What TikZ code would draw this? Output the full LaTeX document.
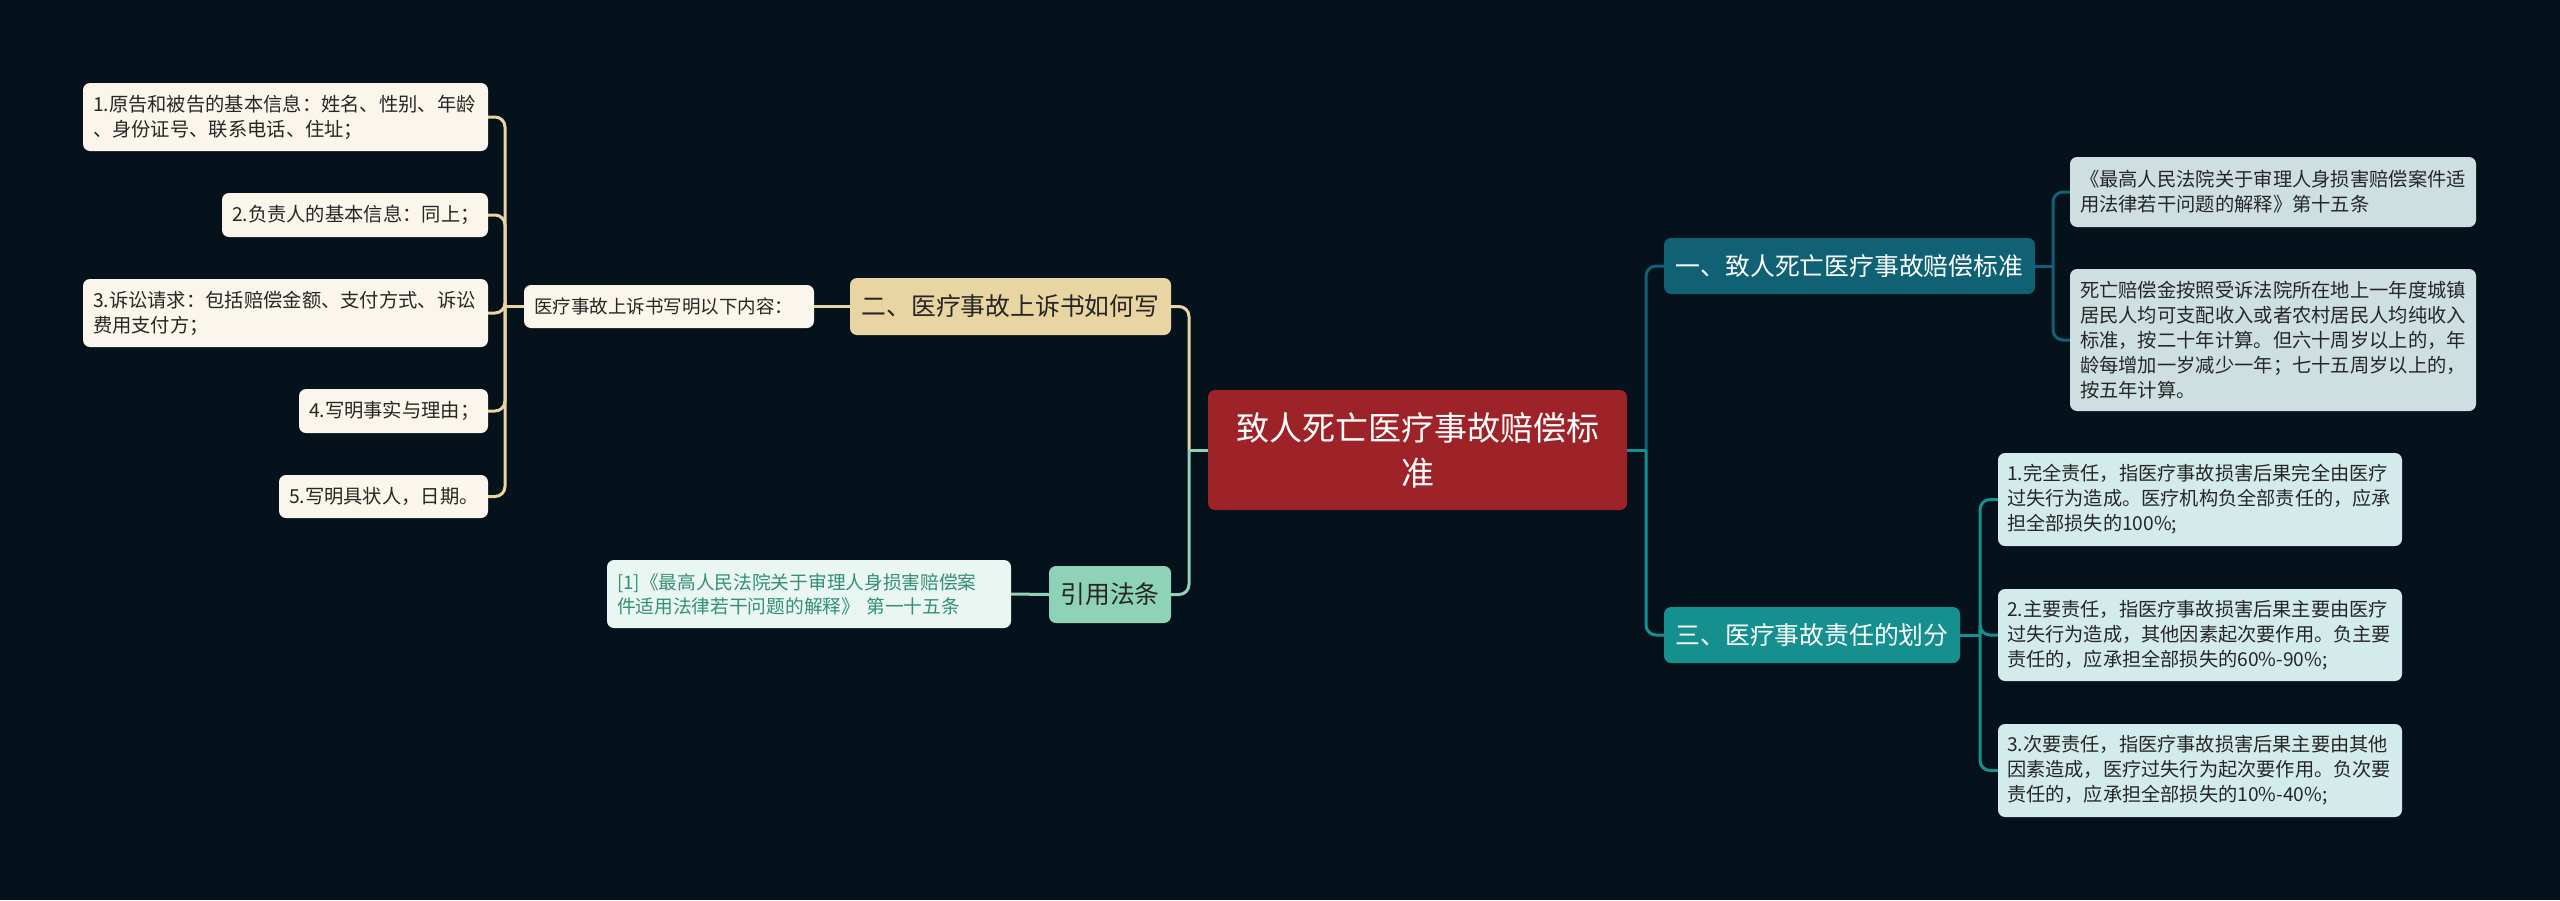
\documentclass[tikz,border=0pt]{standalone}
\usepackage{fontspec}
\setmainfont{Noto Sans CJK SC}
\definecolor{bgc}{HTML}{05121B}
\definecolor{centralc}{HTML}{9E2328}
\definecolor{wheat}{HTML}{E8D5A2}
\definecolor{cream}{HTML}{FBF6EB}
\definecolor{mint}{HTML}{8ED2B8}
\definecolor{mintlight}{HTML}{E9F6F1}
\definecolor{mintText}{HTML}{35906F}
\definecolor{dteal}{HTML}{0F6173}
\definecolor{teal2}{HTML}{16908F}
\definecolor{bluegray}{HTML}{CEDFE2}
\definecolor{cyanlight}{HTML}{D4EBEC}
\definecolor{txtdark}{HTML}{262626}
\tikzset{
  base/.style={rounded corners=7pt, inner ysep=0pt, align=left, anchor=center},
  leafL/.style={base, fill=cream, text=txtdark, font=\fontsize{19.3}{25}\selectfont, inner xsep=10pt},
  leafA/.style={base, fill=bluegray, text=txtdark, font=\fontsize{19.3}{25}\selectfont, inner xsep=10pt},
  leafC/.style={base, fill=cyanlight, text=txtdark, font=\fontsize{19.2}{25}\selectfont, inner xsep=9pt},
  citebox/.style={base, fill=mintlight, text=mintText, font=\fontsize{18.7}{24}\selectfont, inner xsep=10pt},
  mainbr/.style={base, align=center, font=\fontsize{24.8}{30}\selectfont, inner xsep=4pt},
  centralbox/.style={base, align=center, fill=centralc, text=white, font=\fontsize{33}{45}\selectfont, inner xsep=10pt},
  conn/.style={line width=3pt},
  rc/.style={rounded corners=10pt},
  lcream/.style={conn, draw=wheat},
  lmint/.style={conn, draw=mint},
  ldteal/.style={conn, draw=dteal},
  lteal/.style={conn, draw=teal2}
}
\begin{document}
\begin{tikzpicture}[x=1pt,y=-1pt]
\useasboundingbox (0,0) rectangle (2560,900);
\fill[bgc] (0,0) rectangle (2560,900);

% central
\node[centralbox, minimum width=419pt, minimum height=120pt, text width=399pt] (c) at (1417.5,450) {致人死亡医疗事故赔偿标\\准};

% left branch: 二
\node[mainbr, fill=wheat, text=txtdark, minimum width=321pt, minimum height=57pt] (n2) at (1010.5,306.5) {二、医疗事故上诉书如何写};
\node[base, fill=cream, text=txtdark, font=\fontsize{18.5}{24}\selectfont, inner xsep=10pt, minimum width=290pt, minimum height=43pt, text width=270pt] (q) at (669,306.5) {医疗事故上诉书写明以下内容：};

\node[leafL, minimum width=405pt, minimum height=68pt, text width=385pt] (l1) at (285.5,117) {1.原告和被告的基本信息：姓名、性别、年龄\\、身份证号、联系电话、住址；};
\node[leafL, minimum width=266pt, minimum height=44pt, text width=246pt] (l2) at (355,215) {2.负责人的基本信息：同上；};
\node[leafL, minimum width=405pt, minimum height=68pt, text width=385pt] (l3) at (285.5,313) {3.诉讼请求：包括赔偿金额、支付方式、诉讼\\费用支付方；};
\node[leafL, minimum width=189pt, minimum height=44pt, text width=169pt] (l4) at (393.5,411) {4.写明事实与理由；};
\node[leafL, minimum width=209pt, minimum height=43pt, text width=189pt] (l5) at (383.5,496.5) {5.写明具状人，日期。};

% left branch: 引用法条
\node[mainbr, fill=mint, text=txtdark, minimum width=122pt, minimum height=57pt] (n4) at (1110,594.5) {引用法条};
\node[citebox, minimum width=404pt, minimum height=68pt, text width=384pt] (ct) at (809,594) {[1]《最高人民法院关于审理人身损害赔偿案\\件适用法律若干问题的解释》 第一十五条};

% right branch: 一
\node[mainbr, fill=dteal, text=white, minimum width=371pt, minimum height=56pt] (n1) at (1849.5,266) {一、致人死亡医疗事故赔偿标准};
\node[leafA, minimum width=406pt, minimum height=70pt, text width=386pt] (a) at (2273,192) {《最高人民法院关于审理人身损害赔偿案件适\\用法律若干问题的解释》第十五条};
\node[leafA, minimum width=406pt, minimum height=142pt, text width=386pt] (b) at (2273,340) {死亡赔偿金按照受诉法院所在地上一年度城镇\\居民人均可支配收入或者农村居民人均纯收入\\标准，按二十年计算。但六十周岁以上的，年\\龄每增加一岁减少一年；七十五周岁以上的，\\按五年计算。};

% right branch: 三
\node[mainbr, fill=teal2, text=white, minimum width=296pt, minimum height=56pt] (n3) at (1812,635) {三、医疗事故责任的划分};
\node[leafC, minimum width=404pt, minimum height=93pt, text width=386pt] (c1) at (2200,499.5) {1.完全责任，指医疗事故损害后果完全由医疗\\过失行为造成。医疗机构负全部责任的，应承\\担全部损失的100\%;};
\node[leafC, minimum width=404pt, minimum height=92pt, text width=386pt] (c2) at (2200,635) {2.主要责任，指医疗事故损害后果主要由医疗\\过失行为造成，其他因素起次要作用。负主要\\责任的，应承担全部损失的60\%-90\%;};
\node[leafC, minimum width=404pt, minimum height=93pt, text width=386pt] (c3) at (2200,770.5) {3.次要责任，指医疗事故损害后果主要由其他\\因素造成，医疗过失行为起次要作用。负次要\\责任的，应承担全部损失的10\%-40\%;};

% junction coordinates
\coordinate (bl) at (505,306.5);
\coordinate (bc) at (1189,450);
\coordinate (br) at (1646,450);
\coordinate (b1) at (2053,266);
\coordinate (b3) at (1980,635);

% connectors left
\draw[lcream] (q.west) -- (bl);
\foreach \k in {l1,l2,l3,l4,l5} { \draw[lcream, rc] (bl) |- (\k.east); }
\draw[lcream] (q.east) -- (n2.west);
\draw[lcream, rc] (bc) |- (n2.east);
\draw[lmint, rc] (bc) |- (n4.east);
\draw[lmint] (c.west) -- (bc);
\draw[lmint] (ct.east) -- (n4.west);

% connectors right
\draw[ldteal, rc] (br) |- (n1.west);
\draw[lteal, rc] (br) |- (n3.west);
\draw[lteal] (c.east) -- (br);
\draw[ldteal] (n1.east) -- (b1);
\draw[ldteal, rc] (b1) |- (a.west);
\draw[ldteal, rc] (b1) |- (b.west);
\draw[lteal] (n3.east) -- (b3);
\foreach \k in {c1,c2,c3} { \draw[lteal, rc] (b3) |- (\k.west); }
\end{tikzpicture}
\end{document}
